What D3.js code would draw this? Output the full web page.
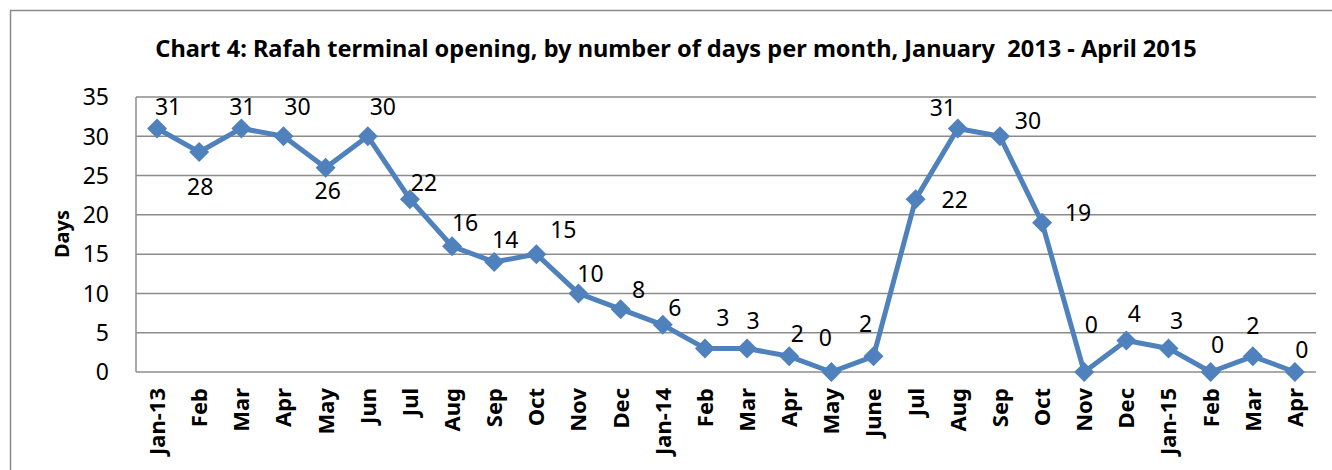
<!DOCTYPE html>
<html>
<head>
<meta charset="utf-8">
<script src="https://cdn.jsdelivr.net/npm/d3@7"></script>
<style>
  html, body { margin: 0; padding: 0; background: #fff; }
  svg { display: block; }
  text { font-family: "Noto Sans", "Open Sans", sans-serif; fill: #000; }
</style>
</head>
<body>
<svg id="chart" width="1332" height="470"></svg>
<script>
// months Jan 2013 - Apr 2015
var months = ['Jan-13', 'Feb', 'Mar', 'Apr', 'May', 'Jun', 'Jul', 'Aug', 'Sep', 'Oct', 'Nov', 'Dec',
              'Jan-14', 'Feb', 'Mar', 'Apr', 'May', 'June', 'Jul', 'Aug', 'Sep', 'Oct', 'Nov', 'Dec',
              'Jan-15', 'Feb', 'Mar', 'Apr'];
var days = [31, 28, 31, 30, 26, 30, 22, 16, 14, 15, 10, 8, 6, 3, 3, 2, 0, 2, 22, 31, 30, 19, 0, 4, 3, 0, 2, 0];
var yTicks = [0, 5, 10, 15, 20, 25, 30, 35];

// hand-placed label nudges (px, label centre from point)
var labelNudge = [[11, -22], [1, 35], [1, -22], [14, -30], [2, 23], [15, -30], [14, -16], [13, -24],
                  [11, -22], [27, -24], [12, -20], [18, -19], [12, -17], [18, -31], [6, -28], [8, -23],
                  [-6, -34], [-8, -33], [39, 1], [-15, -21], [28, -16], [36, -10], [7, -47], [8, -27],
                  [8, -28], [7, -27], [0, -31], [7, -22]];

(function(){
    var svg = d3.select('#chart');
    var plotL = 136, plotR = 1316, plotT = 97, plotB = 372;
    var blue = '#4f81bd', grid = '#8c8c8c';

    // outer chart border (right/bottom edges fall outside the picture)
    svg.append('rect')
        .attr('x', 10.5).attr('y', 10.5)
        .attr('width', 1340).attr('height', 480)
        .attr('fill', 'none').attr('stroke', '#8a8a8a').attr('stroke-width', 1.5);

    var x = d3.scaleBand()
        .domain(d3.range(months.length))
        .range([plotL, plotR]);
    var y = d3.scaleLinear().domain([0, 35]).range([plotB, plotT]);
    var cx = function(i){ return x(i) + x.bandwidth() / 2; };

    // grid lines
    svg.append('g').selectAll('line')
        .data(yTicks)
        .enter().append('line')
        .attr('x1', plotL).attr('x2', plotR)
        .attr('y1', function(d){ return y(d); })
        .attr('y2', function(d){ return y(d); })
        .attr('stroke', grid).attr('stroke-width', 1.5);

    // vertical axis line
    svg.append('line')
        .attr('x1', plotL).attr('x2', plotL)
        .attr('y1', plotT).attr('y2', plotB)
        .attr('stroke', grid).attr('stroke-width', 1.5);

    // y tick labels
    svg.append('g').selectAll('text')
        .data(yTicks)
        .enter().append('text')
        .attr('x', 109)
        .attr('y', function(d){ return y(d); })
        .attr('dy', '0.36em')
        .attr('text-anchor', 'end')
        .style('font-size', '23px')
        .text(function(d){ return d; });

    // x tick labels, rotated
    svg.append('g').selectAll('text')
        .data(months)
        .enter().append('text')
        .attr('transform', function(d, i){
            return 'translate(' + cx(i) + ',388) rotate(-90)';
        })
        .attr('dy', '0.36em')
        .attr('text-anchor', 'end')
        .style('font-size', '22px')
        .style('font-weight', 'bold')
        .text(function(d){ return d; });

    // y axis title
    svg.append('text')
        .attr('transform', 'translate(62,234) rotate(-90)')
        .attr('dy', '0.36em')
        .attr('text-anchor', 'middle')
        .style('font-size', '20px')
        .style('font-weight', 'bold')
        .text('Days');

    // title
    var title = svg.append('text')
        .attr('x', 676).attr('y', 57)
        .attr('text-anchor', 'middle')
        .style('font-size', '20px')
        .style('font-weight', 'bold')
        .text('Chart 4: Rafah terminal opening, by number of days per month, January\u00a0 2013 - April 2015');
    var tw = title.node().getComputedTextLength();
    title.style('font-size', (20 * 1042 / tw) + 'px');

    // series line
    var line = d3.line()
        .x(function(d, i){ return cx(i); })
        .y(function(d){ return y(d); });

    svg.append('path')
        .datum(days)
        .attr('d', line)
        .attr('fill', 'none')
        .attr('stroke', blue)
        .attr('stroke-width', 5)
        .attr('stroke-linejoin', 'round');

    // diamond markers
    svg.append('g').selectAll('path')
        .data(days)
        .enter().append('path')
        .attr('d', function(d, i){
            var px = cx(i), py = y(d), r = 10;
            return 'M' + px + ',' + (py - r) + 'L' + (px + r) + ',' + py +
                   'L' + px + ',' + (py + r) + 'L' + (px - r) + ',' + py + 'Z';
        })
        .attr('fill', blue);

    // data labels
    svg.append('g').selectAll('text')
        .data(days)
        .enter().append('text')
        .attr('x', function(d, i){ return cx(i) + labelNudge[i][0]; })
        .attr('y', function(d, i){ return y(d) + labelNudge[i][1]; })
        .attr('dy', '0.36em')
        .attr('text-anchor', 'middle')
        .style('font-size', '23px')
        .text(function(d){ return d; });
})();
</script>
</body>
</html>
